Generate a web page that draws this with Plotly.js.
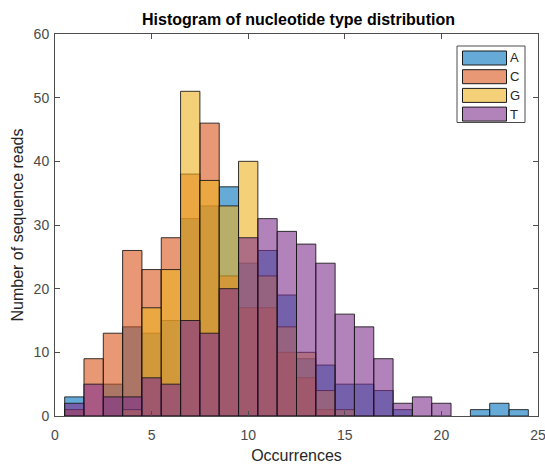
<!DOCTYPE html>
<html>
<head>
<meta charset="utf-8">
<script src="https://cdn.plot.ly/plotly-3.0.1.min.js"></script>
<style>html,body{margin:0;padding:0;background:#fff;}#chart{width:545px;height:464px;}</style>
</head>
<body>
<div id="chart"></div>
<script>
// Bin centres (bin width 1, edges at 0.5 ... 24.5)
const binCenters = [1,2,3,4,5,6,7,8,9,10,11,12,13,14,15,16,17,18,19,20,21,22,23,24];
const countsA = [3,0,5,14,13,15,31,33,36,24,26,19,9,8,5,5,4,1,0,0,0,1,2,1];
const countsC = [1,9,13,26,23,28,38,46,22,17,17,10,6,1,0,0,0,0,0,0,0,0,0,0];
const countsG = [0,0,0,1,17,23,51,37,33,40,22,14,10,4,1,0,0,0,0,0,0,0,0,0];
const countsT = [2,5,3,3,6,5,15,13,20,28,31,29,27,24,16,14,9,2,3,2,0,0,0,0];
const seriesNames = ['A','C','G','T'];
const xTicks = [0,5,10,15,20,25];
const yTicks = [0,10,20,30,40,50,60];

const colors = ['rgba(0,114,189,0.6)','rgba(217,83,25,0.6)','rgba(237,177,32,0.6)','rgba(126,47,142,0.6)'];
const allCounts = [countsA, countsC, countsG, countsT];
const FONT = 'Liberation Sans, Arial, Helvetica, sans-serif';

const traces = allCounts.map((ys, i) => ({
  type: 'bar',
  name: seriesNames[i],
  x: binCenters,
  y: ys.map(v => v === 0 ? null : v),
  width: 1,
  marker: {color: colors[i], line: {color: 'rgba(20,20,20,0.85)', width: 1}},
  showlegend: false
}));

// Plot area in pixels
const W = 545, H = 464, L = 55, R = 538, T = 34, B = 416;
const px2x = p => (p - L) / (R - L);
const py2y = p => (B - p) / (B - T);

// Custom MATLAB-style legend (wide swatches)
const shapes = [];
const annotations = [];
shapes.push({type: 'rect', xref: 'paper', yref: 'paper',
  x0: px2x(457), x1: px2x(525), y0: py2y(122.5), y1: py2y(46),
  fillcolor: '#ffffff', line: {color: '#4d4d4d', width: 1}, layer: 'above'});
seriesNames.forEach((nm, i) => {
  const top = 51 + i * 18.7;
  shapes.push({type: 'rect', xref: 'paper', yref: 'paper',
    x0: px2x(462.5), x1: px2x(506.5), y0: py2y(top + 14), y1: py2y(top),
    fillcolor: colors[i], line: {color: '#1a1a1a', width: 1}, layer: 'above'});
  annotations.push({xref: 'paper', yref: 'paper', x: px2x(507.5), y: py2y(top + 7),
    xanchor: 'left', yanchor: 'middle', showarrow: false, text: nm,
    font: {family: FONT, size: 13, color: '#262626'}});
});

const axisCommon = {
  showline: true, mirror: 'ticks', linecolor: '#4d4d4d', linewidth: 1,
  ticks: 'inside', ticklen: 5, tickcolor: '#4d4d4d', tickwidth: 1,
  showgrid: false, zeroline: false,
  tickfont: {family: FONT, size: 14, color: '#4a4a4a'}
};

const layout = {
  width: W, height: H,
  margin: {l: L, r: W - R, t: T, b: H - B},
  paper_bgcolor: '#ffffff', plot_bgcolor: '#ffffff',
  barmode: 'overlay', bargap: 0,
  title: {text: '<b>Histogram of nucleotide type distribution</b>',
    font: {family: FONT, size: 16, color: '#000'},
    x: 298.5 / W, xanchor: 'center', y: 1 - 19 / H, yanchor: 'middle'},
  xaxis: Object.assign({}, axisCommon, {range: [0, 25], tickvals: xTicks, ticklabelstandoff: 6,
    ticklabeloverflow: 'allow',
    title: {text: 'Occurrences', font: {family: FONT, size: 16, color: '#262626'}, standoff: 8}}),
  yaxis: Object.assign({}, axisCommon, {range: [0, 60], tickvals: yTicks, ticklabelstandoff: 2,
    title: {text: 'Number of sequence reads', font: {family: FONT, size: 16, color: '#262626'}, standoff: 6}}),
  shapes: shapes,
  annotations: annotations,
  showlegend: false
};

Plotly.newPlot('chart', traces, layout, {displayModeBar: false, staticPlot: true});
</script>
</body>
</html>
